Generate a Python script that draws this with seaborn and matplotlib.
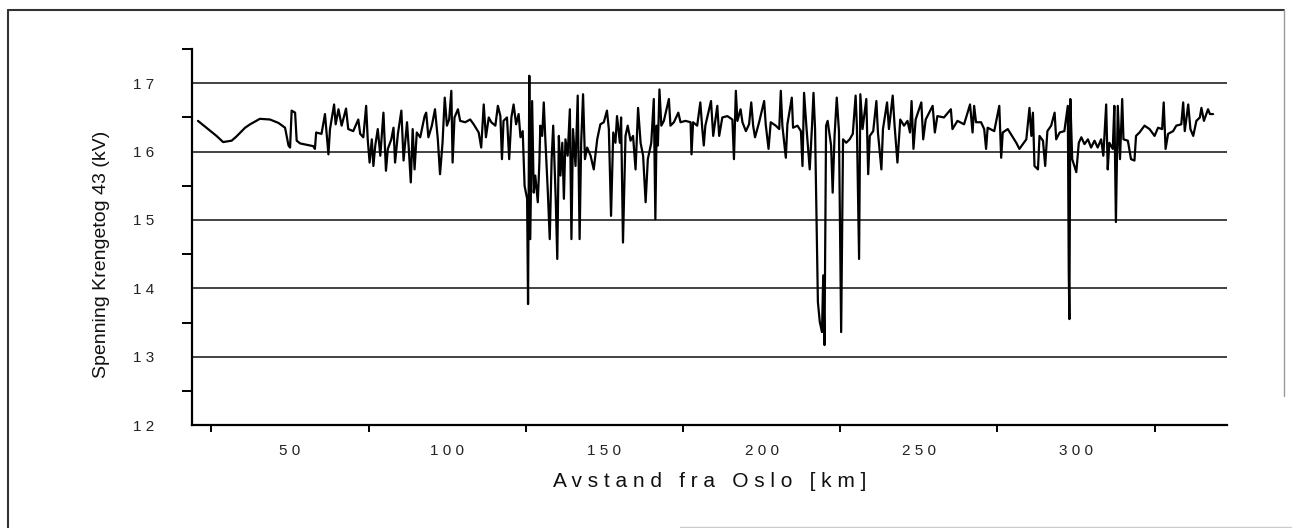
import matplotlib
matplotlib.use("Agg")
import matplotlib.pyplot as plt
import seaborn as sns
import pandas as pd
from matplotlib.lines import Line2D

# Distance from Oslo (km) and catenary voltage (kV) along the line
km = [
    20.7, 26.6, 28.7, 31.4, 32.9, 35.7, 37.3, 40.4, 43.6, 46.3, 48.4, 49.5, 50.0, 50.5,
    51.6, 52.1, 53.2, 57.4, 57.9, 58.3, 60.0, 61.1, 61.7, 62.2, 62.7, 64.0, 64.5, 65.4,
    66.4, 67.8, 68.5, 70.1, 71.7, 72.3, 73.3, 74.2, 74.7, 75.3, 76.0, 76.5, 77.1, 77.9,
    78.7, 79.7, 80.5, 81.1, 82.2, 82.9, 83.4, 84.3, 85.4, 86.1, 87.2, 87.7, 88.4, 89.0,
    89.6, 90.3, 91.4, 92.8, 93.3, 94.0, 95.1, 96.1, 97.0, 97.7, 98.5, 99.2, 99.9, 100.6,
    101.3, 101.7, 102.3, 103.4, 104.1, 105.7, 107.3, 108.4, 110.0, 110.8, 111.6, 112.3,
    113.2, 114.0, 115.3, 116.1, 116.9, 117.4, 117.9, 119.0, 119.7, 120.4, 121.1, 121.9,
    122.7, 123.3, 124.0, 124.6, 125.4, 125.7, 126.1, 126.4, 127.0, 127.5, 128.0, 128.8,
    129.3, 129.6, 130.2, 130.7, 131.2, 132.0, 132.6, 133.2, 133.7, 134.5, 135.0, 135.5,
    136.0, 136.6, 137.1, 137.6, 138.3, 139.0, 139.5, 140.0, 140.8, 141.5, 142.1, 142.6,
    143.2, 143.8, 144.5, 145.6, 146.6, 147.7, 148.7, 149.8, 150.8, 151.4, 152.1, 152.8,
    153.5, 154.0, 154.9, 155.3, 155.9, 156.7, 157.4, 158.3, 159.1, 159.9, 160.7, 161.5,
    162.3, 163.1, 163.8, 164.9, 165.7, 166.2, 166.6, 167.0, 167.5, 168.1, 168.9, 170.5,
    171.0, 172.1, 173.5, 174.2, 175.8, 177.4, 177.7, 178.2, 179.5, 180.5, 181.1, 181.6,
    182.1, 183.9, 184.6, 185.9, 186.5, 187.5, 189.1, 190.7, 191.2, 191.8, 192.3, 193.3,
    193.9, 195.0, 196.0, 196.7, 197.3, 197.9, 199.2, 200.8, 201.3, 202.2, 202.9, 204.5,
    205.6, 206.1, 206.6, 207.7, 208.2, 209.6, 210.0, 211.4, 212.5, 213.0, 213.5, 214.3,
    215.3, 216.0, 216.5, 217.0, 217.6, 217.9, 218.5, 219.2, 219.6, 220.0, 220.5, 221.0,
    222.1, 222.6, 223.2, 223.9, 224.6, 225.3, 225.9, 226.9, 228.0, 229.0, 229.9, 230.3,
    231.0, 231.4, 232.1, 233.3, 233.9, 234.4, 235.5, 236.5, 237.0, 238.1, 238.6, 239.9,
    240.5, 241.7, 242.3, 243.2, 244.1, 245.3, 246.4, 247.2, 247.7, 248.3, 249.0, 250.8,
    251.4, 252.2, 254.4, 255.1, 255.9, 258.0, 260.2, 260.7, 262.3, 264.4, 266.3, 267.1,
    267.6, 268.2, 269.8, 270.8, 271.4, 271.9, 274.0, 275.6, 276.2, 276.7, 278.3, 279.9,
    281.0, 282.0, 283.1, 284.2, 285.2, 285.8, 286.3, 286.8, 287.9, 288.4, 289.5, 290.2,
    290.9, 292.1, 293.2, 293.7, 294.8, 296.3, 297.4, 297.7, 297.9, 298.2, 298.8, 299.5,
    300.1, 300.9, 301.7, 302.7, 303.8, 304.8, 305.9, 306.9, 308.0, 308.7, 309.6, 310.1,
    310.6, 311.7, 312.2, 312.7, 313.3, 314.0, 314.7, 315.1, 316.5, 317.5, 318.6, 319.1,
    320.2, 321.8, 323.4, 325.0, 326.1, 327.4, 327.9, 328.5, 329.3, 330.9, 331.9, 333.5,
    334.1, 334.6, 335.7, 336.4, 337.3, 338.3, 339.4, 339.9, 340.7, 342.0, 342.6, 343.6,
]
kv = [
    16.45, 16.23, 16.14, 16.16, 16.22, 16.35, 16.40, 16.48, 16.47, 16.42, 16.35, 16.09, 16.06, 16.60,
    16.57, 16.16, 16.12, 16.08, 16.04, 16.28, 16.26, 16.55, 16.23, 15.96, 16.33, 16.69, 16.40, 16.62,
    16.38, 16.63, 16.33, 16.30, 16.47, 16.26, 16.21, 16.67, 16.18, 15.84, 16.18, 15.79, 16.09, 16.33,
    15.94, 16.57, 15.72, 16.04, 16.18, 16.35, 15.84, 16.26, 16.60, 15.87, 16.43, 16.09, 15.55, 16.33,
    15.74, 16.28, 16.21, 16.52, 16.57, 16.21, 16.38, 16.62, 16.18, 15.67, 16.13, 16.79, 16.38, 16.47,
    16.89, 15.84, 16.50, 16.62, 16.45, 16.43, 16.47, 16.40, 16.28, 16.06, 16.69, 16.21,
    16.50, 16.43, 16.38, 16.67, 16.52, 15.89, 16.45, 16.50, 15.89, 16.50, 16.69, 16.40,
    16.55, 16.21, 16.30, 15.50, 15.31, 13.77, 17.11, 14.72, 16.74, 15.40, 15.65, 15.26,
    15.84, 16.38, 16.23, 16.72, 16.18, 15.40, 14.72, 15.89, 16.38, 15.31, 14.43, 16.23,
    15.65, 16.13, 15.31, 16.18, 15.94, 16.62, 14.72, 16.33, 15.79, 16.82, 14.72, 16.13,
    16.84, 15.89, 16.06, 15.94, 15.74, 16.18, 16.40, 16.43, 16.60, 16.33, 15.06, 16.28,
    16.13, 16.52, 16.13, 16.50, 14.67, 16.23, 16.38, 16.16, 16.23, 15.74, 16.64, 16.13,
    15.94, 15.26, 15.89, 16.13, 16.77, 15.01, 16.38, 16.09, 16.91, 16.38, 16.45, 16.77,
    16.38, 16.43, 16.57, 16.43, 16.45, 16.43, 15.96, 16.43, 16.38, 16.72, 16.35, 16.09,
    16.38, 16.74, 16.23, 16.67, 16.23, 16.50, 16.52, 16.47, 15.89, 16.89, 16.45, 16.62,
    16.43, 16.30, 16.40, 16.72, 16.38, 16.21, 16.43, 16.74, 16.40, 16.04, 16.43, 16.38,
    16.33, 16.89, 16.38, 15.91, 16.40, 16.79, 16.35, 16.38, 16.30, 15.79, 16.86, 16.33,
    15.74, 16.35, 16.86, 16.33, 14.63, 13.80, 13.51, 13.36, 14.19, 13.17, 16.38, 16.45,
    16.09, 15.40, 16.23, 16.79, 16.30, 13.36, 16.18, 16.13, 16.18, 16.26, 16.82, 16.38,
    14.43, 16.84, 16.33, 16.77, 15.67, 16.23, 16.30, 16.74, 16.28, 15.74, 16.33, 16.72,
    16.33, 16.82, 16.38, 15.84, 16.47, 16.38, 16.45, 16.28, 16.74, 16.04, 16.47, 16.72,
    16.18, 16.47, 16.67, 16.28, 16.52, 16.50, 16.62, 16.33, 16.45, 16.40, 16.69, 16.28,
    16.67, 16.43, 16.43, 16.33, 16.04, 16.35, 16.30, 16.67, 15.91, 16.28, 16.33, 16.21,
    16.13, 16.04, 16.11, 16.18, 16.64, 16.23, 16.57, 15.79, 15.74, 16.23, 16.16, 15.79,
    16.30, 16.38, 16.57, 16.18, 16.28, 16.30, 16.67, 14.24, 13.55, 16.77, 15.89, 15.79,
    15.70, 16.13, 16.21, 16.11, 16.18, 16.06, 16.16, 16.06, 16.18, 15.94, 16.69, 15.74,
    16.13, 16.04, 16.67, 14.97, 16.67, 15.89, 16.77, 16.18, 16.16, 15.89, 15.87, 16.23,
    16.28, 16.38, 16.33, 16.23, 16.35, 16.33, 16.72, 16.04, 16.26, 16.30, 16.38, 16.40,
    16.72, 16.30, 16.69, 16.33, 16.23, 16.45, 16.50, 16.64, 16.45, 16.62, 16.55, 16.55,
]

y_ticks = [12, 13, 14, 15, 16, 17]
y_tick_labels = ["1 2", "1 3", "1 4", "1 5", "1 6", "1 7"]
x_ticks = [50, 100, 150, 200, 250, 300]
x_tick_labels = ["5 0", "1 0 0", "1 5 0", "2 0 0", "2 5 0", "3 0 0"]

sns.set_theme(style="white")
plt.rcParams["font.family"] = ["Liberation Sans", "DejaVu Sans"]

fig = plt.figure(figsize=(12.92, 5.28), dpi=100)
ax = fig.add_axes([0.1486, 0.195, 0.801, 0.712])

df = pd.DataFrame({"km": km, "kv": kv})
sns.lineplot(data=df, x="km", y="kv", estimator=None, sort=False,
             color="black", linewidth=1.6, ax=ax, zorder=3)

ax.set_xlim(18.8, 348.0)
ax.set_ylim(12, 17.5)

for side in ("top", "right"):
    ax.spines[side].set_visible(False)
for side in ("left", "bottom"):
    ax.spines[side].set_color("black")
    ax.spines[side].set_linewidth(1.6)

ax.set_yticks(y_ticks)
ax.set_yticklabels(y_tick_labels)
ax.set_yticks([12.5, 13.5, 14.5, 15.5, 16.5, 17.5], minor=True)
ax.set_xticks(x_ticks)
ax.set_xticklabels(x_tick_labels)
ax.set_xticks([25, 75, 125, 175, 225, 275, 325], minor=True)

ax.tick_params(axis="y", which="major", direction="out", length=15, width=1.4,
               color="black", labelsize=11, pad=12, labelcolor="#222")
ax.tick_params(axis="y", which="minor", direction="out", length=7, width=1.4,
               color="black", left=True)
ax.tick_params(axis="x", which="major", direction="out", length=8, width=1.4,
               color="black", labelsize=11, pad=6, labelcolor="#222")
ax.tick_params(axis="x", which="minor", direction="out", length=5, width=1.4,
               color="black", bottom=True)

ax.grid(axis="y", which="major", color="#222222", linewidth=1.2)
ax.grid(axis="x", visible=False)

ax.set_xlabel("A v s t a n d   f r a   O s l o   [ k m ]", fontsize=15,
              color="#111", labelpad=10)
ax.set_ylabel("Spenning Krengetog 43 (kV)", fontsize=14, color="#111")
ax.yaxis.set_label_coords(-0.079, 0.455)

# page frame around the figure
W, H = 1292, 528
fig.add_artist(Line2D([8 / W, 8 / W], [0, 1 - 10 / H], transform=fig.transFigure,
                      color="#333333", linewidth=1.5))
fig.add_artist(Line2D([8 / W, 1284 / W], [1 - 10 / H, 1 - 10 / H],
                      transform=fig.transFigure, color="#333333", linewidth=1.5))
fig.add_artist(Line2D([1284 / W, 1284 / W], [0.25, 1 - 10 / H],
                      transform=fig.transFigure, color="#999999", linewidth=1.0))
fig.add_artist(Line2D([680 / W, 1], [1.5 / H, 1.5 / H],
                      transform=fig.transFigure, color="#cccccc", linewidth=1.0))

fig.savefig("out.png", dpi=100)
